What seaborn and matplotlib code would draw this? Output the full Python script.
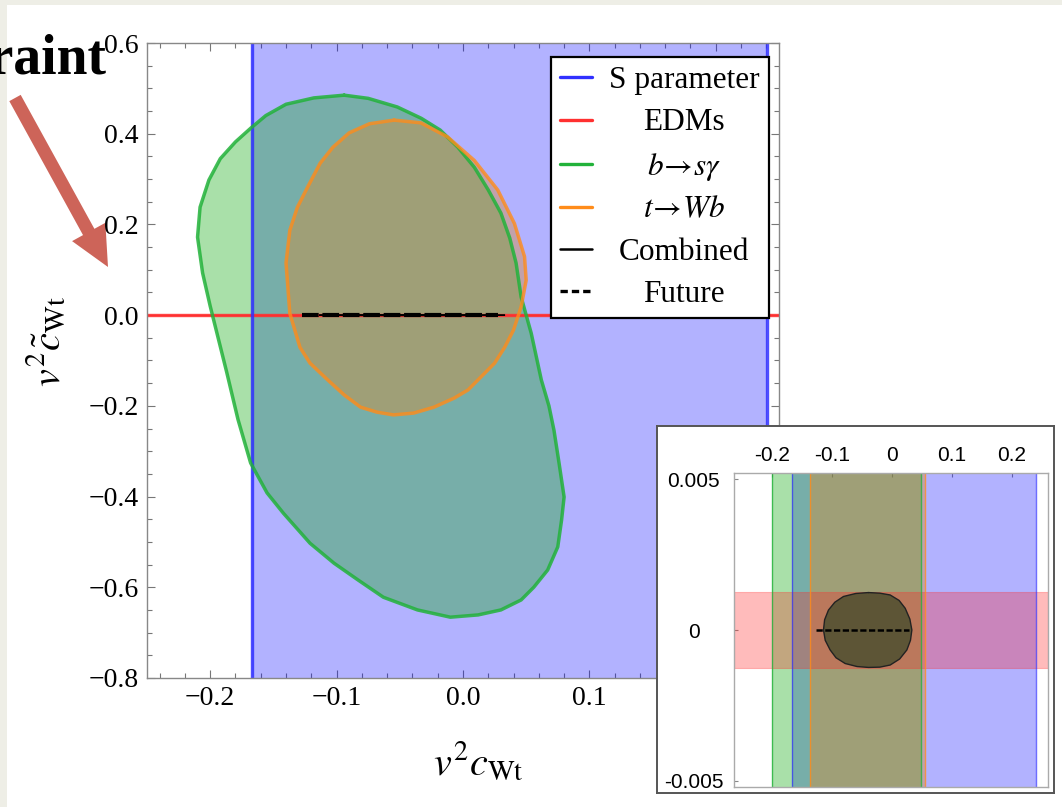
import matplotlib
matplotlib.use("Agg")
import matplotlib.pyplot as plt
import seaborn as sns
from matplotlib.lines import Line2D
from matplotlib.patches import Rectangle, FancyArrow
from matplotlib.ticker import MultipleLocator, FixedLocator, FuncFormatter

# S parameter allowed band in v^2 c_Wt
s_band = [-0.167, 0.2405]
# EDMs allowed band in v^2 c~_Wt
edm_band = [-0.00125, 0.00125]

# b -> s gamma contour
bsg_x = [-0.094, -0.075, -0.052, -0.033, -0.018, -0.004, 0.009, 0.020, 0.030, 0.037, 0.042, 0.046,
         0.054, 0.062, 0.068, 0.072, 0.076, 0.080, 0.078, 0.075, 0.067, 0.056, 0.046, 0.030, 0.012,
         -0.010, -0.036, -0.063, -0.083, -0.102, -0.121, -0.142, -0.155, -0.168, -0.178, -0.187,
         -0.200, -0.206, -0.210, -0.208, -0.201, -0.192, -0.180, -0.168, -0.156, -0.140, -0.118]
bsg_y = [0.485, 0.478, 0.459, 0.434, 0.408, 0.370, 0.326, 0.276, 0.225, 0.170, 0.115, 0.040,
         -0.040, -0.143, -0.200, -0.254, -0.326, -0.401, -0.452, -0.511, -0.562, -0.600, -0.628,
         -0.650, -0.661, -0.666, -0.650, -0.622, -0.584, -0.547, -0.503, -0.437, -0.392, -0.326,
         -0.230, -0.125, 0.020, 0.093, 0.172, 0.238, 0.298, 0.345, 0.382, 0.412, 0.440, 0.465,
         0.479]

# t -> Wb contour
twb_x = [-0.0545, -0.0333, -0.0122, 0.009, 0.0275, 0.0407, 0.0487, 0.050, 0.046, 0.040, 0.033,
         0.025, 0.014, 0.004, -0.007, -0.023, -0.039, -0.055, -0.068, -0.081, -0.094, -0.107,
         -0.121, -0.129, -0.137, -0.140, -0.137, -0.131, -0.123, -0.113, -0.103, -0.090, -0.074]
twb_y = [0.430, 0.424, 0.393, 0.341, 0.276, 0.202, 0.129, 0.077, 0.018, -0.033, -0.071, -0.106,
         -0.137, -0.165, -0.183, -0.203, -0.216, -0.220, -0.214, -0.203, -0.176, -0.143, -0.106,
         -0.071, 0.004, 0.115, 0.187, 0.238, 0.282, 0.335, 0.370, 0.402, 0.422]

# combined contour (tiny, seen in zoom)
comb_x = [-0.0389, -0.020, -0.0028, 0.012, 0.0222, 0.030, 0.0333, 0.031, 0.025, 0.013, -0.0028,
          -0.020, -0.0389, -0.058, -0.0778, -0.093, -0.1028, -0.111, -0.1139, -0.112, -0.1056,
          -0.095, -0.0806, -0.060]
comb_y = [0.00124, 0.00122, 0.00116, 0.00098, 0.00072, 0.00036, 0.0, -0.00034, -0.00066, -0.00096,
          -0.00116, -0.00123, -0.00124, -0.00121, -0.00111, -0.00092, -0.00066, -0.00034, 0.0,
          0.00034, 0.00066, 0.00092, 0.00111, 0.00121]

# future projection
future_x = [-0.127, 0.028]
future_y = [0.0, 0.0]

# bands at y ~ 0 seen in the zoom panel
bsg_band = [-0.199, 0.048]
twb_band = [-0.136, 0.055]

labels = ["S parameter", "EDMs", r"$b\!\rightarrow\! s\gamma$", r"$t\!\rightarrow\! Wb$",
          "Combined", "Future"]

blue, red, green, orange = "#3030ff", "#ff3030", "#22b23a", "#ff8c1a"
blue_f, green_f, orange_f, red_f = "#0000ff", "#0ba80b", "#dc892d", "#ff2020"

sns.set_theme(style="ticks")
plt.rcParams["font.family"] = ["Liberation Serif", "DejaVu Serif"]
plt.rcParams["mathtext.fontset"] = "stix"
plt.rcParams["axes.unicode_minus"] = True
plt.rcParams["text.color"] = "black"
plt.rcParams["axes.labelcolor"] = "black"
plt.rcParams["lines.solid_joinstyle"] = "round"

fig = plt.figure(figsize=(10.62, 8.07), dpi=100)
fig.patch.set_facecolor("#eeeee6")

# slide background, arrow and title fragment
bg = fig.add_axes([0, 0, 1, 1])
bg.set_xlim(0, 1062)
bg.set_ylim(807, 0)
bg.axis("off")
bg.add_patch(Rectangle((7, 5), 1100, 900, facecolor="white", edgecolor="none"))
bg.add_patch(FancyArrow(15, 98, 93, 169, width=13, head_width=38, head_length=40,
                        length_includes_head=True, color="#cd6459", lw=0))
bg.text(106, 73, "Constraint", ha="right", va="baseline", fontsize=40, fontweight="bold",
        color="black", family=["Liberation Serif"], zorder=10)

# main panel
ax = fig.add_axes([0.1384, 0.1599, 0.5951, 0.7868])
ax.set_facecolor("white")
ax.axvspan(s_band[0], s_band[1], color=blue_f, alpha=0.3, lw=0)
for xv in s_band:
    ax.axvline(xv, color=blue, lw=2.4, alpha=0.85)
ax.fill(bsg_x, bsg_y, color=green_f, alpha=0.35, lw=0)
ax.fill(twb_x, twb_y, color=orange_f, alpha=0.4, lw=0)
sns.lineplot(x=bsg_x + bsg_x[:1], y=bsg_y + bsg_y[:1], sort=False, estimator=None,
             color=green, lw=2.5, alpha=0.85, ax=ax)
sns.lineplot(x=twb_x + twb_x[:1], y=twb_y + twb_y[:1], sort=False, estimator=None,
             color=orange, lw=2.5, alpha=0.8, ax=ax)
ax.axhspan(edm_band[0], edm_band[1], facecolor=red_f, edgecolor=red, lw=1.7, alpha=0.9)
ax.fill(comb_x, comb_y, color="#333", lw=0.8, ec="black")
sns.lineplot(x=future_x, y=future_y, sort=False, estimator=None, color="black", lw=3.0,
             ax=ax).lines[-1].set_dashes((4, 0.9))

ax.set_xlim(-0.25, 0.25)
ax.set_ylim(-0.8, 0.6)
fmt = FuncFormatter(lambda v, p: ("%.1f" % (0.0 if abs(v) < 1e-9 else v)).replace("-", "\u2212"))
ax.xaxis.set_major_locator(MultipleLocator(0.1))
ax.xaxis.set_minor_locator(MultipleLocator(0.02))
ax.yaxis.set_major_locator(MultipleLocator(0.2))
ax.yaxis.set_minor_locator(MultipleLocator(0.05))
ax.xaxis.set_major_formatter(fmt)
ax.yaxis.set_major_formatter(fmt)
ax.tick_params(which="both", direction="in", top=True, right=True, color="#777",
               labelcolor="black", width=0.8, labelsize=20, pad=6)
ax.tick_params(which="major", length=6)
ax.tick_params(which="minor", length=3.5)
for sp in ax.spines.values():
    sp.set_color("#888")
    sp.set_linewidth(1.0)
ax.set_xlabel(r"$v^2c_{\rm Wt}$", fontsize=29)
ax.set_ylabel(r"$v^2\tilde{c}_{\rm Wt}$", fontsize=29)
ax.xaxis.set_label_coords(0.524, -0.10)
ax.yaxis.set_label_coords(-0.122, 0.53)

handles = [Line2D([], [], color=blue, lw=2.4), Line2D([], [], color=red, lw=2.4),
           Line2D([], [], color=green, lw=2.4), Line2D([], [], color=orange, lw=2.4),
           Line2D([], [], color="black", lw=1.8), Line2D([], [], color="black", lw=2.4, ls=(0, (2.2, 1.2)))]
leg = ax.legend(handles, labels, loc="upper right", bbox_to_anchor=(0.984, 0.978),
                borderaxespad=0, fontsize=22.5, handlelength=1.0, handletextpad=0.55,
                labelspacing=0.42, borderpad=0.3, fancybox=False, framealpha=1,
                edgecolor="black")
leg.get_frame().set_linewidth(1.6)

# zoom panel
box = fig.add_axes([0.6186, 0.01735, 0.3738, 0.4548])
box.set_xticks([])
box.set_yticks([])
box.set_facecolor("white")
for sp in box.spines.values():
    sp.set_color("#555")
    sp.set_linewidth(1.4)

ins = fig.add_axes([0.6911, 0.02478, 0.2957, 0.3891])
ins.set_facecolor("white")
ins.axvspan(s_band[0], s_band[1], color=blue_f, alpha=0.3, lw=0)
for xv in s_band:
    ins.axvline(xv, color=blue, lw=1.0, alpha=0.7)
ins.axvspan(bsg_band[0], bsg_band[1], color=green_f, alpha=0.35, lw=0)
for xv in bsg_band:
    ins.axvline(xv, color=green, lw=1.0, alpha=0.8)
ins.axvspan(twb_band[0], twb_band[1], color=orange_f, alpha=0.4, lw=0)
for xv in twb_band:
    ins.axvline(xv, color=orange, lw=1.0, alpha=0.8)
ins.axhspan(edm_band[0], edm_band[1], facecolor=red_f, edgecolor=red, lw=0.8, alpha=0.3)
ins.fill(comb_x, comb_y, facecolor="#3e4a2a", alpha=0.75, lw=0)
sns.lineplot(x=comb_x + comb_x[:1], y=comb_y + comb_y[:1], sort=False, estimator=None,
             color="#222", lw=1.0, ax=ins)
sns.lineplot(x=future_x, y=future_y, sort=False, estimator=None, color="black", lw=1.8,
             ax=ins).lines[-1].set_dashes((2.5, 1))
ins.set_xlim(-0.263, 0.26)
ins.set_ylim(-0.0052, 0.0052)
ins.xaxis.set_major_locator(FixedLocator([-0.2, -0.1, 0, 0.1, 0.2]))
ins.yaxis.set_major_locator(FixedLocator([-0.005, 0, 0.005]))
gfmt = FuncFormatter(lambda v, p: "0" if abs(v) < 1e-12 else "%g" % v)
ins.xaxis.set_major_formatter(gfmt)
ins.yaxis.set_major_formatter(gfmt)
ins.tick_params(axis="x", top=True, bottom=False, labeltop=True, labelbottom=False, pad=6)
ins.tick_params(axis="y", pad=29)
ins.tick_params(direction="in", length=3, color="#888", width=0.8, labelsize=15,
                labelcolor="black", labelfontfamily="Liberation Sans")
plt.setp(ins.get_yticklabels(), ha="center")
for sp in ins.spines.values():
    sp.set_color("#aaa")
    sp.set_linewidth(1.0)

# centre the legend labels like the original
fig.canvas.draw()
r = fig.canvas.get_renderer()
texts = leg.get_texts()
widths = [t.get_window_extent(r).width for t in texts]
for t, w in zip(texts, widths):
    t.set_x((max(widths) - w) / 2)

fig.savefig("out.png", dpi=100, facecolor=fig.get_facecolor())
